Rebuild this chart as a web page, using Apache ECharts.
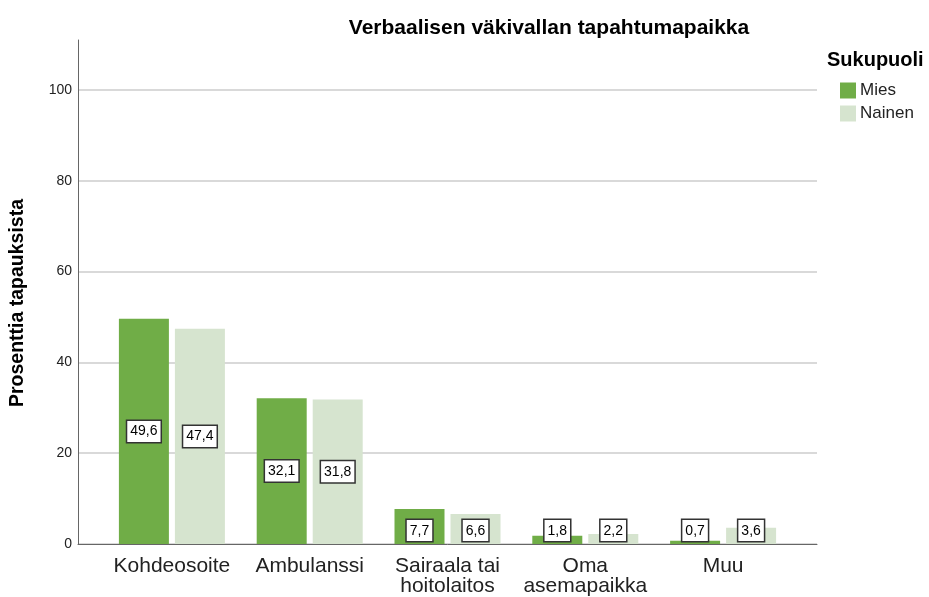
<!DOCTYPE html>
<html>
<head>
<meta charset="utf-8">
<script src="https://cdn.jsdelivr.net/npm/echarts@6/dist/echarts.min.js"></script>
<style>
  html, body { margin: 0; padding: 0; background: #fff; }
  #main { width: 929px; height: 597px; }
</style>
</head>
<body>
<div id="main"></div>
<script>
// kategoriat ja arvot
var categories = ["Kohdeosoite", "Ambulanssi", "Sairaala tai\nhoitolaitos", "Oma\nasemapaikka", "Muu"];
var miesValues = [49.6, 32.1, 7.7, 1.8, 0.7];
var nainenValues = [47.4, 31.8, 6.6, 2.2, 3.6];
var seriesNames = ["Mies", "Nainen"];
var yTicks = [0, 20, 40, 60, 80, 100];

var font = "Liberation Sans, Arial, sans-serif";
var yMax = 111;

// matalat pylväät: selite pylvään alaosaan
function toItems(values) {
  return values.map(function (v) {
    return {
      value: v,
      label: { position: v < 10 ? "insideBottom" : "inside", distance: 3 }
    };
  });
}

var labelStyle = {
  show: true,
  formatter: function (p) { return String(p.value).replace(".", ","); },
  fontFamily: font,
  fontSize: 14,
  color: "#000",
  backgroundColor: "#fff",
  borderColor: "#333",
  borderWidth: 1.5,
  padding: [4, 3, 3, 3]
};

var chart = echarts.init(document.getElementById("main"));
chart.setOption({
  animation: false,
  textStyle: { fontFamily: font },
  title: {
    text: "Verbaalisen väkivallan tapahtumapaikka",
    left: 544,
    top: 13,
    textAlign: "center",
    textStyle: { fontSize: 21, fontWeight: "bold", color: "#000", fontFamily: font }
  },
  graphic: [
    {
      type: "text",
      left: 827,
      top: 50,
      style: { text: "Sukupuoli", font: "bold 20px " + font, fill: "#000" }
    },
    {
      // y-akselin nimi
      type: "text",
      x: 18,
      y: 303,
      rotation: Math.PI / 2,
      style: {
        text: "Prosenttia tapauksista",
        font: "bold 19.5px " + font,
        fill: "#000",
        align: "center",
        verticalAlign: "middle"
      }
    }
  ],
  legend: {
    data: seriesNames,
    orient: "vertical",
    left: 840,
    top: 82,
    padding: 0,
    itemWidth: 16,
    itemHeight: 16,
    itemGap: 6,
    icon: "rect",
    textStyle: { fontSize: 17, color: "#222", padding: [0, 0, 0, -1] }
  },
  grid: [
    { left: 78, right: 112, top: 40, bottom: 53 },
    { left: 103, right: 137, top: 40, bottom: 53 }
  ],
  xAxis: [
    {
      gridIndex: 0,
      type: "value",
      min: 0,
      max: 1,
      axisLine: { show: true, lineStyle: { color: "#666", width: 1 } },
      axisTick: { show: false },
      axisLabel: { show: false },
      splitLine: { show: false }
    },
    {
      gridIndex: 1,
      type: "category",
      data: categories,
      axisLine: { show: false },
      axisTick: { show: false },
      axisLabel: { fontSize: 21, color: "#222", margin: 12, lineHeight: 20, interval: 0 }
    }
  ],
  yAxis: [
    {
      gridIndex: 0,
      type: "value",
      min: yTicks[0],
      max: yMax,
      interval: 20,
      axisLine: { show: true, lineStyle: { color: "#666", width: 1 } },
      axisTick: { show: false },
      axisLabel: {
        fontSize: 14, color: "#222", margin: 6, showMaxLabel: false,
        formatter: function (v) { return yTicks.indexOf(v) >= 0 ? v : ""; }
      },
      splitLine: { show: true, showMaxLine: false, lineStyle: { color: "#ccc", width: 1.5 } }
    },
    {
      gridIndex: 1,
      type: "value",
      min: 0,
      max: yMax,
      show: false
    }
  ],
  series: [
    {
      name: seriesNames[0],
      type: "bar",
      xAxisIndex: 1,
      yAxisIndex: 1,
      data: toItems(miesValues),
      barWidth: 50,
      barGap: "12%",
      itemStyle: { color: "#70ad47" },
      label: labelStyle
    },
    {
      name: seriesNames[1],
      type: "bar",
      xAxisIndex: 1,
      yAxisIndex: 1,
      data: toItems(nainenValues),
      barWidth: 50,
      itemStyle: { color: "#d6e4cf" },
      label: labelStyle
    }
  ]
});
</script>
</body>
</html>
